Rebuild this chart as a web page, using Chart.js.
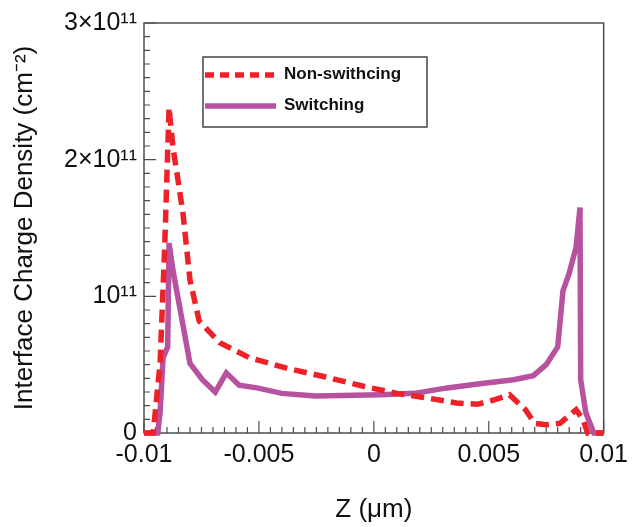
<!DOCTYPE html>
<html>
<head>
<meta charset="utf-8">
<script src="https://cdn.jsdelivr.net/npm/chart.js@4"></script>
<style>
  html, body { margin: 0; padding: 0; background: #fff; }
</style>
</head>
<body>
<canvas id="myChart" width="635" height="527"></canvas>
<script>
// Z positions (um) and interface charge density (cm^-2)
var nonSwitchZ = [-0.01, -0.0096, -0.0093, -0.0091, -0.00891, -0.00874, -0.00852, -0.0083, -0.008, -0.0076,
                  -0.0067, -0.0054, -0.0037, -0.0021, -0.0004, 0.001, 0.0022, 0.0036, 0.0045, 0.0052,
                  0.0059, 0.0066, 0.0070, 0.0075, 0.0081, 0.0088, 0.0091, 0.0093, 0.01];
var nonSwitchQ = [0, 0, 0.51e11, 1.36e11, 2.38e11, 2.09e11, 1.85e11, 1.6e11, 1.12e11, 0.82e11,
                  0.66e11, 0.55e11, 0.47e11, 0.41e11, 0.34e11, 0.29e11, 0.26e11, 0.22e11, 0.21e11, 0.24e11,
                  0.28e11, 0.17e11, 0.07e11, 0.06e11, 0.07e11, 0.17e11, 0.10e11, 0, 0];

var switchZ = [-0.01, -0.0094, -0.0093, -0.00917, -0.00897, -0.00891, -0.00874, -0.008, -0.00746, -0.0069,
               -0.00642, -0.00586, -0.00509, -0.004, -0.00254, 0.0003, 0.00177, 0.00319, 0.00461, 0.00608,
               0.00694, 0.0075, 0.008, 0.00823, 0.0085, 0.0088, 0.00897, 0.0090, 0.00922, 0.00957, 0.01];
var switchQ = [0, 0, 0.15e11, 0.55e11, 0.63e11, 1.39e11, 1.19e11, 0.51e11, 0.39e11, 0.30e11,
               0.44e11, 0.35e11, 0.33e11, 0.29e11, 0.27e11, 0.28e11, 0.29e11, 0.33e11, 0.36e11, 0.39e11,
               0.42e11, 0.50e11, 0.63e11, 1.04e11, 1.17e11, 1.36e11, 1.65e11, 0.39e11, 0.15e11, 0, 0];

var yTickLabels = ['0', '10¹¹', '2×10¹¹', '3×10¹¹'];

function toPoints(xs, ys) {
    return xs.map(function (x, i) { return { x: x, y: ys[i] }; });
}

// box round the plot with inward ticks on the left and bottom
var framePlugin = {
    id: 'frame',
    beforeDatasetsDraw: function (chart) {
        var ctx = chart.ctx, a = chart.chartArea;
        var xs = chart.scales.x, ys = chart.scales.y;
        ctx.save();
        ctx.strokeStyle = '#4d4d4d';
        ctx.lineWidth = 1.5;
        ctx.strokeRect(a.left, a.top, a.right - a.left, a.bottom - a.top);
        ctx.lineWidth = 1.2;
        ctx.beginPath();
        for (var i = 0; i <= 40; i++) {
            var px = xs.getPixelForValue(-0.01 + i * 0.0005);
            var len = i % 10 === 0 ? 12 : 6;
            ctx.moveTo(px, a.bottom);
            ctx.lineTo(px, a.bottom - len);
        }
        for (var j = 0; j <= 30; j++) {
            var py = ys.getPixelForValue(j * 1e10);
            var l = j % 10 === 0 ? 12 : 6;
            ctx.moveTo(a.left, py);
            ctx.lineTo(a.left + l, py);
        }
        ctx.stroke();
        ctx.restore();
    }
};

var legendBox = {
    id: 'legendBox',
    afterDatasetsDraw: function (chart) {
        var ctx = chart.ctx;
        var ds = chart.data.datasets;
        ctx.save();
        ctx.fillStyle = '#fff';
        ctx.fillRect(203, 57, 224, 70);
        ctx.strokeStyle = '#444';
        ctx.lineWidth = 1.5;
        ctx.strokeRect(203, 57, 224, 70);
        var rows = [75, 106];
        ds.forEach(function (d, i) {
            ctx.beginPath();
            ctx.strokeStyle = d.borderColor;
            ctx.lineWidth = 5.5;
            ctx.setLineDash(d.borderDash ? [9, 6] : []);
            ctx.moveTo(205, rows[i]);
            ctx.lineTo(276, rows[i]);
            ctx.stroke();
            ctx.setLineDash([]);
            ctx.fillStyle = '#111';
            ctx.font = 'bold 17px "Liberation Sans", Arial, sans-serif';
            ctx.textBaseline = 'middle';
            ctx.fillText(d.label, 284, rows[i] - 1);
        });
        ctx.restore();
    }
};

var ctx = document.getElementById('myChart').getContext('2d');
var myChart = new Chart(ctx, {
    type: 'scatter',
    data: {
        datasets: [{
            label: 'Non-swithcing',
            data: toPoints(nonSwitchZ, nonSwitchQ),
            borderColor: 'rgb(238,32,40)',
            backgroundColor: 'rgb(238,32,40)',
            borderWidth: 5.5,
            borderDash: [13, 7],
            showLine: true,
            pointRadius: 0,
            clip: 4
        }, {
            label: 'Switching',
            data: toPoints(switchZ, switchQ),
            borderColor: 'rgb(183,82,160)',
            backgroundColor: 'rgb(183,82,160)',
            borderWidth: 5.5,
            showLine: true,
            pointRadius: 0,
            clip: 4
        }]
    },
    options: {
        responsive: false,
        animation: false,
        layout: { autoPadding: false, padding: { top: 23, right: 27, bottom: 0, left: 0 } },
        plugins: { legend: { display: false }, tooltip: { enabled: false } },
        scales: {
            x: {
                type: 'linear',
                min: -0.01,
                max: 0.01,
                afterFit: function (s) { s.height = 94; },
                grid: { display: false, drawTicks: false },
                border: { display: false },
                ticks: {
                    stepSize: 0.005,
                    padding: 7,
                    color: '#111',
                    font: { family: '"Liberation Sans", Arial, sans-serif', size: 25 },
                    callback: function (v) { return String(+v.toFixed(4)); }
                },
                title: {
                    display: true,
                    text: 'Z (μm)',
                    color: '#111',
                    font: { family: '"Liberation Sans", Arial, sans-serif', size: 26 },
                    padding: { top: 0, bottom: 2 }
                }
            },
            y: {
                min: 0,
                max: 3e11,
                afterFit: function (s) { s.width = 144; },
                grid: { display: false, drawTicks: false },
                border: { display: false },
                ticks: {
                    stepSize: 1e11,
                    padding: 7,
                    color: '#111',
                    font: { family: '"Liberation Sans", Arial, sans-serif', size: 25 },
                    callback: function (v) { return yTickLabels[Math.round(v / 1e11)]; }
                },
                title: {
                    display: true,
                    text: 'Interface Charge Density (cm⁻²)',
                    color: '#111',
                    font: { family: '"Liberation Sans", Arial, sans-serif', size: 26 },
                    padding: { top: 9, bottom: 0 }
                }
            }
        }
    },
    plugins: [framePlugin, legendBox]
});
</script>
</body>
</html>
